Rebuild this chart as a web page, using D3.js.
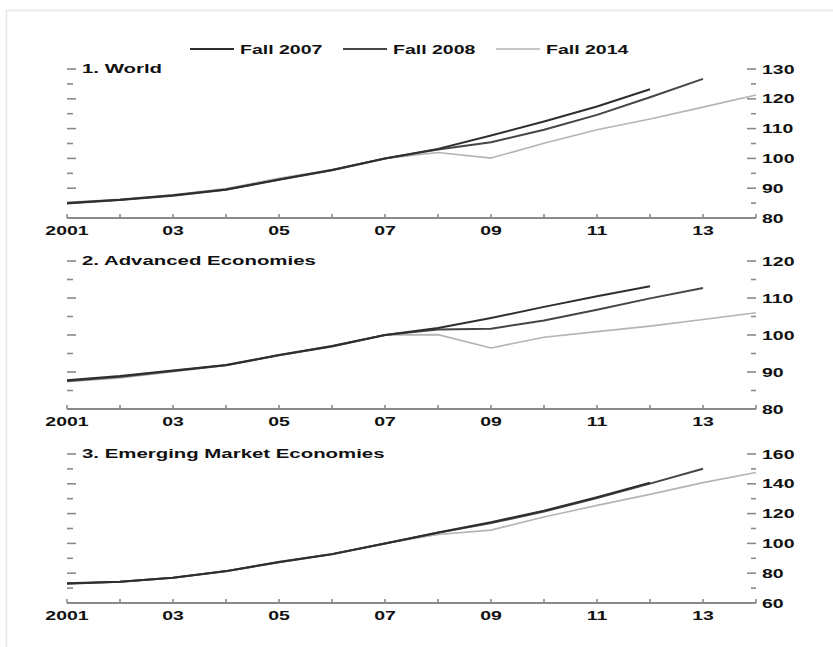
<!DOCTYPE html>
<html>
<head>
<meta charset="utf-8">
<script src="https://cdn.jsdelivr.net/npm/d3@7"></script>
<style>
html,body{margin:0;padding:0;background:#fff;}
svg text{font-family:"Liberation Sans",Arial,Helvetica,sans-serif;font-weight:bold;}
</style>
</head>
<body>
<svg id="chart" width="833" height="647"></svg>
<script>
const years = [2001,2002,2003,2004,2005,2006,2007,2008,2009,2010,2011,2012,2013,2014];
const yearLabels = ["2001","03","05","07","09","11","13"];
const seriesNames = ["Fall 2007","Fall 2008","Fall 2014"];
const panelTitles = ["1. World","2. Advanced Economies","3. Emerging Market Economies"];

const worldFall2007 = [85.0, 86.1, 87.6, 89.6, 92.9, 96.1, 100, 103.2, 107.7, 112.4, 117.4, 123.2];
const worldFall2008 = [84.9, 86.0, 87.5, 89.5, 92.8, 96.0, 100, 103.0, 105.4, 109.6, 114.6, 120.5, 126.7];
const worldFall2014 = [85.3, 86.3, 87.8, 89.9, 93.3, 96.3, 100, 102.0, 100.1, 105.1, 109.6, 113.2, 117.2, 121.3];

const advFall2007 = [87.8, 88.9, 90.4, 91.9, 94.6, 97.0, 100, 101.9, 104.6, 107.6, 110.5, 113.2];
const advFall2008 = [87.6, 88.7, 90.3, 91.8, 94.5, 96.9, 100, 101.5, 101.7, 103.9, 106.8, 109.9, 112.7];
const advFall2014 = [87.4, 88.4, 90.1, 91.8, 94.6, 97.0, 100, 100.1, 96.5, 99.4, 100.9, 102.4, 104.2, 106.0];

const emFall2007 = [73.2, 74.3, 77.0, 81.4, 87.5, 92.8, 100, 107.3, 114.2, 122.0, 131.0, 140.8];
const emFall2008 = [73.0, 74.2, 76.9, 81.3, 87.4, 92.7, 100, 107.1, 113.6, 121.4, 130.4, 140.1, 150.1];
const emFall2014 = [73.0, 74.2, 77.0, 81.5, 87.8, 93.0, 100, 106.0, 108.9, 117.7, 125.5, 132.9, 140.8, 147.6];

const worldDomain = [80,130], worldTicks = [80,90,100,110,120,130];
const advDomain = [80,120], advTicks = [80,90,100,110,120];
const emDomain = [60,160], emTicks = [60,80,100,120,140,160];

const panels = [
  {title: panelTitles[0], domain: worldDomain, ticks: worldTicks, series:[worldFall2007, worldFall2008, worldFall2014], top:69, bottom:218},
  {title: panelTitles[1], domain: advDomain, ticks: advTicks, series:[advFall2007, advFall2008, advFall2014], top:261, bottom:409},
  {title: panelTitles[2], domain: emDomain, ticks: emTicks, series:[emFall2007, emFall2008, emFall2014], top:454, bottom:603}
];

const colors = ["#2e2e2e", "#454545", "#b4b4b4"];
const widths = [2, 2, 1.6];
const axisColor = "#8a8a8a";
const stretch = 1.5;
const fs = 13;

const svg = d3.select("#chart");

function wideText(parent, xPos, yPos, txt, anchor, dy, size) {
  const g = parent.append("g").attr("transform", `translate(${xPos},${yPos}) scale(${stretch},1)`);
  g.append("text").attr("x",0).attr("y",0).attr("dy",dy)
    .attr("text-anchor",anchor).attr("font-size",size || fs).attr("fill","#111").text(txt);
  return g;
}

// frame
svg.append("line").attr("x1",6).attr("x2",833).attr("y1",10.5).attr("y2",10.5).attr("stroke","#e6e6e6").attr("stroke-width",1.5);
svg.append("line").attr("x1",6.5).attr("x2",6.5).attr("y1",10).attr("y2",647).attr("stroke","#e6e6e6").attr("stroke-width",1.5);

const x = d3.scaleLinear().domain([2001,2014]).range([67,756]);

// legend
const legendX = [190, 343, 496];
seriesNames.forEach((n,i)=>{
  svg.append("line").attr("x1",legendX[i]).attr("x2",legendX[i]+44).attr("y1",49).attr("y2",49)
    .attr("stroke",colors[i]).attr("stroke-width",widths[i]);
  wideText(svg, legendX[i]+50, 49, n, "start", "0.36em");
});

panels.forEach(p=>{
  const y = d3.scaleLinear().domain(p.domain).range([p.bottom,p.top]);
  const g = svg.append("g");
  const step = (p.ticks[1]-p.ticks[0])/2;
  const minor = d3.range(p.domain[0]+step, p.domain[1], step*2);
  const major = p.ticks.filter(t=>t>p.domain[0]);

  g.selectAll(".lmaj").data(major).join("line")
    .attr("x1",67).attr("x2",76).attr("y1",d=>y(d)).attr("y2",d=>y(d))
    .attr("stroke",axisColor).attr("stroke-width",1.6);
  g.selectAll(".lmin").data(minor).join("line")
    .attr("x1",67).attr("x2",73).attr("y1",d=>y(d)).attr("y2",d=>y(d))
    .attr("stroke",axisColor).attr("stroke-width",1.6);
  g.selectAll(".rmaj").data(major).join("line")
    .attr("x1",747).attr("x2",756).attr("y1",d=>y(d)).attr("y2",d=>y(d))
    .attr("stroke",axisColor).attr("stroke-width",1.6);
  g.selectAll(".rmin").data(minor).join("line")
    .attr("x1",751).attr("x2",756).attr("y1",d=>y(d)).attr("y2",d=>y(d))
    .attr("stroke",axisColor).attr("stroke-width",1.6);
  p.ticks.forEach(t=>wideText(g, 762, y(t), t, "start", "0.36em"));

  g.append("line").attr("x1",67).attr("x2",756).attr("y1",p.bottom).attr("y2",p.bottom)
    .attr("stroke",axisColor).attr("stroke-width",2);
  g.selectAll(".xt").data(years).join("line")
    .attr("x1",d=>x(d)).attr("x2",d=>x(d)).attr("y1",p.bottom).attr("y2",p.bottom-4)
    .attr("stroke",axisColor).attr("stroke-width",1.6);
  years.filter((d,i)=>i%2===0).forEach((d,i)=>wideText(g, x(d), p.bottom+17, yearLabels[i], "middle", "0"));

  wideText(g, 82, y(p.domain[1]), p.title, "start", "0.32em", 13.6);

  const line = d3.line().x((d,i)=>x(years[i])).y(d=>y(d));
  [2,1,0].forEach(i=>{
    g.append("path").datum(p.series[i]).attr("d",line)
      .attr("fill","none").attr("stroke",colors[i]).attr("stroke-width",widths[i])
      .attr("stroke-linejoin","round");
  });
});
</script>
</body>
</html>
